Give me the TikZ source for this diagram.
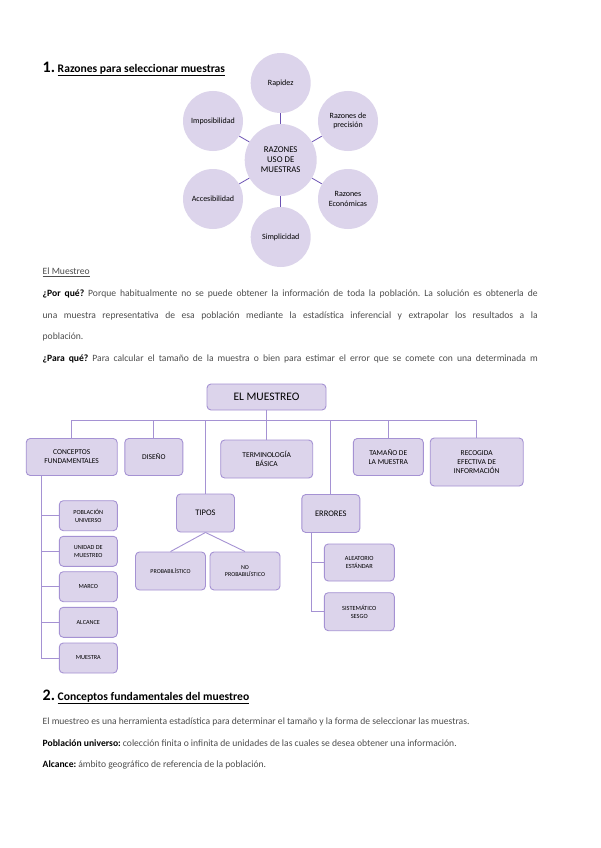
\documentclass[tikz,border=0pt]{standalone}
\usepackage{fontspec}
\setmainfont{Carlito}
\usepackage{tikz}
\definecolor{lila}{HTML}{DCD4EB}
\definecolor{lilaborde}{HTML}{A592D3}
\definecolor{lilaoscuro}{HTML}{6C52B3}
\definecolor{gristexto}{HTML}{4D4D4D}
\frenchspacing

\begin{document}
\begin{tikzpicture}[x=1pt, y=-1pt,
        circulo/.style = {circle, fill=lila, minimum size=60pt, inner sep=1pt, align=center, font=\fontsize{8}{9.5}\selectfont},
        centro/.style = {circulo, minimum size=72pt, font=\fontsize{8.8}{10}\selectfont},
        caja/.style = {draw=lilaborde, fill=lila, rounded corners=4pt, line width=0.9pt, align=center, inner sep=1pt},
        linea/.style = {draw=lilaborde, line width=0.9pt},
        radio/.style = {draw=lilaoscuro, line width=0.8pt},
        texto/.style = {anchor=west, inner sep=0pt, text=gristexto, font=\fontsize{9.6}{11}\selectfont}]
                \useasboundingbox (0, 0) rectangle (600, 848);
                \fill[white] (0, 0) rectangle (600, 848);

                \node[anchor=west, inner sep=0] at (42.5, 69) (tit1) {\fontsize{16}{16}\selectfont\bfseries 1.\,\fontsize{11.6}{13}\selectfont\underline{Razones para seleccionar muestras}};

                \node[centro] at (280.7, 160) (raz) {RAZONES\\USO DE\\MUESTRAS};
                \node[circulo] at (280.7, 83) (rap) {Rapidez};
                \node[circulo] at (348, 121) (pre) {Razones de\\precisión};
                \node[circulo] at (348, 199) (eco) {Razones\\Económicas};
                \node[circulo] at (280.7, 237) (sim) {Simplicidad};
                \node[circulo] at (213, 199) (acc) {Accesibilidad};
                \node[circulo] at (213, 121) (imp) {Imposibilidad};

                \draw[radio] (raz) -- (rap);
                \draw[radio] (raz) -- (pre);
                \draw[radio] (raz) -- (eco);
                \draw[radio] (raz) -- (sim);
                \draw[radio] (raz) -- (acc);
                \draw[radio] (raz) -- (imp);

                \node[texto] at (42.5, 272) (sub) {\underline{El Muestreo}};
                \node[texto] at (42.5, 294) (por1) {\makebox[495pt][s]{\textcolor{black}{\bfseries ¿Por qué?} Porque habitualmente no se puede obtener la información de toda la población. La solución es obtenerla de}};
                \node[texto] at (42.5, 315.5) (por2) {\makebox[495pt][s]{una muestra representativa de esa población mediante la estadística inferencial y extrapolar los resultados a la}};
                \node[texto] at (42.5, 337) (por3) {población.};
                \node[texto] at (42.5, 358.5) (para) {\makebox[495pt][s]{\textcolor{black}{\bfseries ¿Para qué?} Para calcular el tamaño de la muestra o bien para estimar el error que se comete con una determinada m}};

                \node[caja, minimum width=119pt, minimum height=26pt, font=\fontsize{11.5}{12}\selectfont] at (266.5, 397) (mst) {EL MUESTREO};
                \node[caja, minimum width=91pt, minimum height=37pt, font=\fontsize{7.5}{9}\selectfont] at (71.7, 457) (cf) {CONCEPTOS\\FUNDAMENTALES};
                \node[caja, minimum width=58pt, minimum height=37pt, font=\fontsize{7.5}{9}\selectfont] at (153.8, 457) (dis) {DISEÑO};
                \node[caja, minimum width=92pt, minimum height=38pt, font=\fontsize{7.5}{9}\selectfont] at (266.7, 459) (ter) {TERMINOLOGÍA\\BÁSICA};
                \node[caja, minimum width=70pt, minimum height=37pt, font=\fontsize{7.5}{9}\selectfont] at (388.3, 457) (tam) {TAMAÑO DE\\LA MUESTRA};
                \node[caja, minimum width=93pt, minimum height=48pt, font=\fontsize{7.5}{9}\selectfont] at (476.7, 462) (rec) {RECOGIDA\\EFECTIVA DE\\INFORMACIÓN};
                \node[caja, minimum width=58pt, minimum height=38pt, font=\fontsize{8.5}{9.5}\selectfont] at (205.5, 513) (tip) {TIPOS};
                \node[caja, minimum width=58pt, minimum height=38pt, font=\fontsize{8.5}{9.5}\selectfont] at (330.8, 513.5) (err) {ERRORES};
                \node[caja, minimum width=70pt, minimum height=38pt, font=\fontsize{6}{7.5}\selectfont] at (170.5, 571) (prob) {PROBABILÍSTICO};
                \node[caja, minimum width=70pt, minimum height=38pt, font=\fontsize{6}{7.5}\selectfont] at (245, 571) (noprob) {NO\\PROBABILÍSTICO};
                \node[caja, minimum width=58pt, minimum height=30pt, font=\fontsize{6.2}{7.5}\selectfont] at (88.3, 515.7) (pob) {POBLACIÓN\\UNIVERSO};
                \node[caja, minimum width=58pt, minimum height=30pt, font=\fontsize{6.2}{7.5}\selectfont] at (88.3, 551.3) (uni) {UNIDAD DE\\MUESTREO};
                \node[caja, minimum width=58pt, minimum height=30pt, font=\fontsize{6.2}{7.5}\selectfont] at (88.3, 586.7) (mar) {MARCO};
                \node[caja, minimum width=58pt, minimum height=30pt, font=\fontsize{6.2}{7.5}\selectfont] at (88.3, 622.3) (alc) {ALCANCE};
                \node[caja, minimum width=58pt, minimum height=30pt, font=\fontsize{6.2}{7.5}\selectfont] at (88.3, 658) (mue) {MUESTRA};
                \node[caja, minimum width=70pt, minimum height=37pt, font=\fontsize{6.3}{7.5}\selectfont] at (359.3, 562.5) (ale) {ALEATORIO\\ESTÁNDAR};
                \node[caja, minimum width=70pt, minimum height=38pt, font=\fontsize{6.3}{7.5}\selectfont] at (359.3, 611.7) (sis) {SISTEMÁTICO\\SESGO};

                \coordinate (bar) at (266.5, 420.7);
                \coordinate (cfl) at ([xshift=-30pt]cf.south);
                \coordinate (errl) at ([xshift=-19.8pt]err.south);

                \draw[linea] (mst) -- (bar);
                \draw[linea] (bar) -| (cf);
                \draw[linea] (bar) -| (dis);
                \draw[linea] (bar) -| (ter);
                \draw[linea] (bar) -| (tam);
                \draw[linea] (bar) -| (rec);
                \draw[linea] (bar) -| (tip);
                \draw[linea] (bar) -| (err);

                \draw[linea] (cfl) |- (pob);
                \draw[linea] (cfl) |- (uni);
                \draw[linea] (cfl) |- (mar);
                \draw[linea] (cfl) |- (alc);
                \draw[linea] (cfl) |- (mue);

                \draw[linea] (tip.south) -- (prob.north);
                \draw[linea] (tip.south) -- (noprob.north);

                \draw[linea] (errl) |- (ale);
                \draw[linea] (errl) |- (sis);

                \node[anchor=west, inner sep=0] at (42.5, 697) (tit2) {\fontsize{16}{16}\selectfont\bfseries 2.\,\fontsize{11.6}{13}\selectfont\underline{Conceptos fundamentales del muestreo}};
                \node[texto] at (42.5, 721.5) (def) {El muestreo es una herramienta estadística para determinar el tamaño y la forma de seleccionar las muestras.};
                \node[texto] at (42.5, 743.5) (pobu) {\textcolor{black}{\bfseries Población universo:} colección finita o infinita de unidades de las cuales se desea obtener una información.};
                \node[texto] at (42.5, 764.5) (alca) {\textcolor{black}{\bfseries Alcance:} ámbito geográfico de referencia de la población.};
                \end{tikzpicture}
\end{document}
